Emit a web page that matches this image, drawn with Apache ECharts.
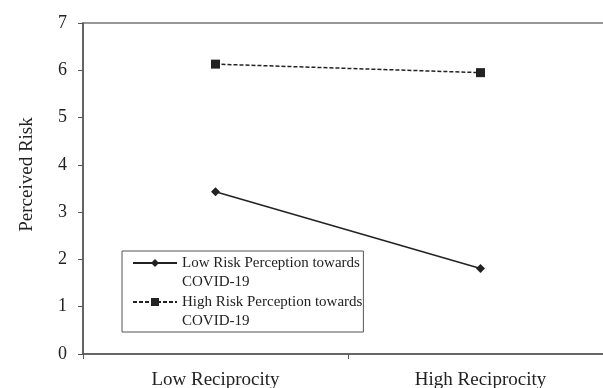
<!DOCTYPE html>
<html>
<head>
<meta charset="utf-8">
<script src="https://cdn.jsdelivr.net/npm/echarts@6/dist/echarts.min.js"></script>
<style>html,body{margin:0;padding:0;background:#fff}#c{width:603px;height:388px}</style>
</head>
<body>
<div id="c"></div>
<script>
const categories = ['Low Reciprocity', 'High Reciprocity'];
const lowRisk = [3.43, 1.81];
const highRisk = [6.13, 5.95];
const seriesNames = ['Low Risk Perception towards\nCOVID-19', 'High Risk Perception towards\nCOVID-19'];
const yTicks = [0, 1, 2, 3, 4, 5, 6, 7];

const font = '"Liberation Serif", "Times New Roman", serif';
const chart = echarts.init(document.getElementById('c'), null, {renderer: 'canvas'});
chart.setOption({
  animation: false,
  backgroundColor: '#fff',
  grid: {left: 83, width: 530, top: 23, bottom: 34, show: true, borderColor: '#777', borderWidth: 1.5, containLabel: false, outerBoundsMode: 'none'},
  xAxis: {
    type: 'category', data: categories, boundaryGap: true,
    axisLine: {lineStyle: {color: '#555', width: 1.5}},
    axisTick: {show: true, length: 5, lineStyle: {color: '#555'}},
    axisLabel: {color: '#222', fontFamily: font, fontSize: 19, margin: 17},
    splitLine: {show: false}
  },
  yAxis: {
    type: 'value', min: yTicks[0], max: yTicks[yTicks.length - 1], interval: 1,
    name: 'Perceived Risk', nameLocation: 'middle', nameGap: 46,
    nameTextStyle: {color: '#222', fontFamily: font, fontSize: 19, padding: [0, 0, 0, 28]},
    axisLine: {show: true, lineStyle: {color: '#555', width: 1.5}},
    axisTick: {show: true, length: 5, lineStyle: {color: '#555'}},
    axisLabel: {color: '#222', fontFamily: font, fontSize: 18, margin: 16},
    splitLine: {show: false}
  },
  legend: {
    orient: 'vertical', left: 122, top: 251,
    data: seriesNames,
    formatter: function (name) { return '\n' + name; },
    backgroundColor: '#fff', borderColor: '#555', borderWidth: 1,
    padding: [-16.5, 1, 1.5, 10], itemGap: -18, itemWidth: 44, itemHeight: 10,
    textStyle: {color: '#222', fontFamily: font, fontSize: 15, lineHeight: 19}
  },
  series: [
    {
      name: seriesNames[0], type: 'line', data: lowRisk,
      symbol: 'diamond', symbolSize: 9,
      lineStyle: {color: '#222', width: 1.5, type: 'solid'},
      itemStyle: {color: '#222'}
    },
    {
      name: seriesNames[1], type: 'line', data: highRisk,
      symbol: 'rect', symbolSize: 9,
      lineStyle: {color: '#222', width: 1.5, type: [4, 2]},
      itemStyle: {color: '#222'}
    }
  ]
});
</script>
</body>
</html>
